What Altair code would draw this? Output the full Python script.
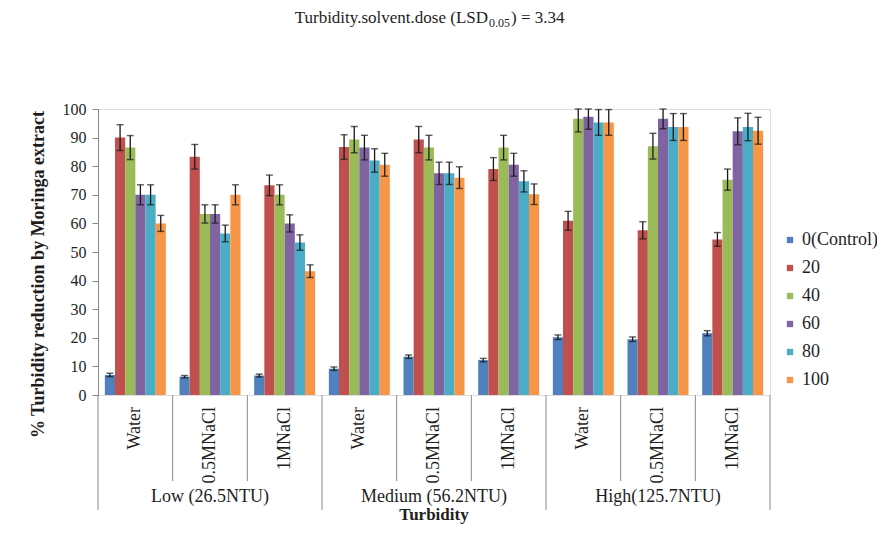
import altair as alt
import pandas as pd

# ---------------- data ----------------
groups = ["Low (26.5NTU)", "Medium (56.2NTU)", "High(125.7NTU)"]
solvents = ["Water", "0.5MNaCl", "1MNaCl"]
doses = ["0(Control)", "20", "40", "60", "80", "100"]

# mean % turbidity reduction, one list per (group, solvent), ordered by dose
means = {
    ("Low (26.5NTU)", "Water"):       [7.0, 90.0, 86.5, 70.0, 70.0, 60.0],
    ("Low (26.5NTU)", "0.5MNaCl"):    [6.4, 83.3, 63.3, 63.3, 56.5, 70.0],
    ("Low (26.5NTU)", "1MNaCl"):      [6.8, 73.3, 70.0, 60.0, 53.3, 43.3],
    ("Medium (56.2NTU)", "Water"):    [9.2, 86.7, 89.3, 86.5, 82.0, 80.5],
    ("Medium (56.2NTU)", "0.5MNaCl"): [13.4, 89.3, 86.5, 77.5, 77.5, 76.0],
    ("Medium (56.2NTU)", "1MNaCl"):   [12.2, 79.0, 86.5, 80.5, 74.7, 70.2],
    ("High(125.7NTU)", "Water"):      [20.2, 60.9, 96.6, 97.3, 95.3, 95.3],
    ("High(125.7NTU)", "0.5MNaCl"):   [19.5, 57.6, 87.0, 96.6, 93.7, 93.7],
    ("High(125.7NTU)", "1MNaCl"):     [21.6, 54.4, 75.3, 92.2, 93.7, 92.4],
}
errors = {
    ("Low (26.5NTU)", "Water"):       [0.6, 4.5, 4.2, 3.5, 3.5, 2.8],
    ("Low (26.5NTU)", "0.5MNaCl"):    [0.4, 4.3, 3.2, 3.2, 2.9, 3.5],
    ("Low (26.5NTU)", "1MNaCl"):      [0.5, 3.6, 3.5, 3.0, 2.7, 2.2],
    ("Medium (56.2NTU)", "Water"):    [0.6, 4.3, 4.6, 4.3, 4.1, 4.0],
    ("Medium (56.2NTU)", "0.5MNaCl"): [0.6, 4.6, 4.3, 3.9, 3.9, 3.8],
    ("Medium (56.2NTU)", "1MNaCl"):   [0.6, 4.0, 4.3, 4.0, 3.7, 3.6],
    ("High(125.7NTU)", "Water"):      [0.8, 3.3, 4.6, 4.4, 4.5, 4.5],
    ("High(125.7NTU)", "0.5MNaCl"):   [0.8, 3.0, 4.5, 3.5, 4.7, 4.7],
    ("High(125.7NTU)", "1MNaCl"):     [0.9, 2.4, 3.7, 4.7, 4.8, 4.7],
}
colors = ["#4F81BD", "#C0504D", "#9BBB59", "#8064A2", "#4BACC6", "#F79646"]
y_ticks = list(range(0, 101, 10))

title_main = "Turbidity.solvent.dose (LSD"
title_sub = "0.05"
title_end = ") = 3.34"
y_title = "% Turbidity reduction by Moringa extract"
x_title = "Turbidity"

# ---------------- tables ----------------
cats = [f"{g}|{s}" for g in groups for s in solvents]
rows = []
for g in groups:
    for s in solvents:
        for d, m, e in zip(doses, means[(g, s)], errors[(g, s)]):
            rows.append(dict(cat=f"{g}|{s}", group=g, solvent=s, dose=d,
                             mean=m, lo=m - e, hi=min(m + e, 100)))
df = pd.DataFrame(rows)

sub_df = pd.DataFrame({"cat": cats, "solvent": [c.split("|")[1] for c in cats]})
grp_df = pd.DataFrame({"cat": [f"{g}|{solvents[1]}" for g in groups], "group": groups})
sep_group = pd.DataFrame({"cat": [f"{g}|{solvents[0]}" for g in groups]})
sep_sub = pd.DataFrame({"cat": [f"{g}|{s}" for g in groups for s in solvents[1:]]})
sep_end = pd.DataFrame({"cat": [cats[-1]]})

W, H = 672, 286
N = len(cats)
P_IN, P_OUT = 0.183, 0.0915
step = W / N
half_gap = P_OUT * step

FONT = "Liberation Serif"
TXT = "#1e1e1e"
AX = "#888888"

xscale = alt.Scale(domain=cats, paddingInner=P_IN, paddingOuter=P_OUT)
x_main = alt.X("cat:N", sort=cats, scale=xscale,
               axis=alt.Axis(labels=False, ticks=False, title=None, domainColor=AX, domainWidth=1))
x_plain = alt.X("cat:N", sort=cats, scale=xscale, axis=None)
x_start = alt.X("cat:N", sort=cats, scale=xscale, axis=None, bandPosition=0)
x_end = alt.X("cat:N", sort=cats, scale=xscale, axis=None, bandPosition=1)
xoff = alt.XOffset("dose:N", sort=doses, scale=alt.Scale(domain=doses, paddingInner=0, paddingOuter=0))
yscale = alt.Scale(domain=[0, 100], nice=False)
y_axis = alt.Axis(values=y_ticks, grid=False, tickSize=6, labelPadding=6,
                  labelOverlap=False,
                  domainColor=AX, tickColor=AX, labelFont=FONT, labelFontSize=16,
                  labelColor=TXT, title=y_title, titleFont=FONT, titleFontSize=18,
                  titleFontWeight="bold", titleColor=TXT, titleAngle=270,
                  titleX=-60, titleY=165, titleAlign="center", titleBaseline="middle")

bars = alt.Chart(df).mark_bar().encode(
    x=x_main,
    xOffset=xoff,
    y=alt.Y("mean:Q", scale=yscale, axis=y_axis),
    color=alt.Color("dose:N", sort=doses,
                    scale=alt.Scale(domain=doses, range=colors),
                    legend=alt.Legend(title=None, orient="none", legendX=683, legendY=122,
                                      symbolType="square", symbolSize=40, symbolStrokeWidth=0,
                                      labelFont=FONT, labelFontSize=18, labelColor=TXT,
                                      labelOffset=3, rowPadding=10, labelLimit=200)),
)

err_line = alt.Chart(df).mark_rule(color="#1a1a1a", strokeWidth=1.3).encode(
    x=x_plain, xOffset=xoff, y=alt.Y("lo:Q", scale=yscale, axis=y_axis), y2="hi:Q")
cap_hi = alt.Chart(df).mark_tick(color="#1a1a1a", thickness=1.4, size=7).encode(
    x=x_plain, xOffset=xoff, y=alt.Y("hi:Q", scale=yscale, axis=y_axis))
cap_lo = alt.Chart(df).mark_tick(color="#1a1a1a", thickness=1.4, size=7).encode(
    x=x_plain, xOffset=xoff, y=alt.Y("lo:Q", scale=yscale, axis=y_axis))

g_sep = alt.Chart(sep_group).mark_rule(color=AX, strokeWidth=1, xOffset=-half_gap).encode(
    x=x_start, y=alt.value(H), y2=alt.value(H + 115))
s_sep = alt.Chart(sep_sub).mark_rule(color=AX, strokeWidth=1, xOffset=-half_gap).encode(
    x=x_start, y=alt.value(H), y2=alt.value(H + 86))
e_sep = alt.Chart(sep_end).mark_rule(color=AX, strokeWidth=1, xOffset=half_gap).encode(
    x=x_end, y=alt.value(H), y2=alt.value(H + 115))

sub_lab = alt.Chart(sub_df).mark_text(font=FONT, fontSize=18, color=TXT, angle=270,
                                      align="right", baseline="middle").encode(
    x=x_plain, y=alt.value(H + 12), text="solvent:N")
grp_lab = alt.Chart(grp_df).mark_text(font=FONT, fontSize=18, color=TXT,
                                      align="center", baseline="middle").encode(
    x=x_plain, y=alt.value(H + 102), text="group:N")
xt = alt.Chart(pd.DataFrame({"t": [x_title]})).mark_text(
    font=FONT, fontSize=17, fontWeight="bold", color=TXT, align="center", baseline="bottom").encode(
    x=alt.value(W / 2), y=alt.value(H + 129), text="t:N")

t1 = alt.Chart(pd.DataFrame({"t": [title_main]})).mark_text(
    font=FONT, fontSize=17, color=TXT, align="right", baseline="middle").encode(
    x=alt.value(390), y=alt.value(-91), text="t:N")
t2 = alt.Chart(pd.DataFrame({"t": [title_sub]})).mark_text(
    font=FONT, fontSize=12, color=TXT, align="left", baseline="middle").encode(
    x=alt.value(391), y=alt.value(-86), text="t:N")
t3 = alt.Chart(pd.DataFrame({"t": [title_end]})).mark_text(
    font=FONT, fontSize=17, color=TXT, align="left", baseline="middle").encode(
    x=alt.value(413), y=alt.value(-91), text="t:N")

chart = alt.layer(bars, err_line, cap_hi, cap_lo, g_sep, s_sep, e_sep,
                  sub_lab, grp_lab, xt, t1, t2, t3).properties(
    width=W, height=H,
    autosize=alt.AutoSizeParams(type="none"),
    padding={"left": 90, "top": 101, "right": 107, "bottom": 130},
).configure_view(stroke=None).configure(background="white")

chart.save("out.html", embed_options={"renderer": "svg", "actions": False})
